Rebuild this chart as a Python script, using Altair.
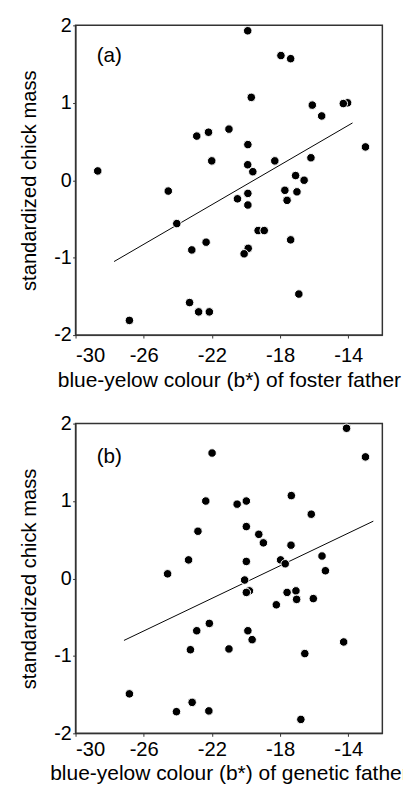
import altair as alt
import pandas as pd

# Panel (a): foster father
foster_x = [-19.9, -17.95, -17.38, -19.69, -16.11, -14.04, -14.29, -15.56, -22.89, -22.2,
            -21.0, -19.89, -22.01, -18.31, -12.99, -16.19, -19.9, -19.6, -28.7, -17.09,
            -16.59, -24.56, -17.72, -17.01, -20.5, -19.89, -19.89, -17.59, -24.06, -19.29,
            -18.93, -17.38, -22.34, -23.18, -19.87, -20.11, -16.9, -23.31, -22.78, -22.15,
            -26.84]
foster_y = [1.93, 1.61, 1.57, 1.07, 0.97, 1.00, 0.99, 0.83, 0.57, 0.62,
            0.66, 0.46, 0.25, 0.25, 0.43, 0.29, 0.20, 0.11, 0.12, 0.06,
            0.00, -0.14, -0.13, -0.15, -0.24, -0.17, -0.32, -0.26, -0.56, -0.65,
            -0.65, -0.77, -0.80, -0.90, -0.88, -0.95, -1.47, -1.58, -1.70, -1.70,
            -1.81]
foster_fit_x = [-27.74, -13.75]
foster_fit_y = [-1.05, 0.74]

# Panel (b): genetic father
genetic_x = [-14.1, -12.99, -21.99, -22.36, -20.52, -19.98, -17.34, -16.17, -22.82, -19.98,
             -19.25, -18.98, -17.36, -23.37, -17.97, -17.7, -15.54, -19.98, -15.34, -24.6,
             -20.08, -19.8, -19.98, -17.59, -17.07, -17.03, -16.05, -18.22, -22.15, -22.89,
             -19.89, -19.64, -14.27, -23.26, -21.0, -16.55, -26.84, -23.16, -24.08, -22.18,
             -16.78]
genetic_y = [1.94, 1.57, 1.62, 1.00, 0.96, 1.00, 1.07, 0.83, 0.61, 0.67,
             0.57, 0.46, 0.43, 0.24, 0.24, 0.19, 0.29, 0.22, 0.10, 0.06,
             -0.02, -0.16, -0.18, -0.18, -0.16, -0.27, -0.26, -0.34, -0.58, -0.675,
             -0.675, -0.79, -0.82, -0.92, -0.91, -0.97, -1.49, -1.60, -1.72, -1.71,
             -1.82]
genetic_fit_x = [-27.16, -12.53]
genetic_fit_y = [-0.80, 0.74]

x_ticks = [-30, -26, -22, -18, -14]
y_ticks = [-2, -1, 0, 1, 2]
FONT = "Liberation Sans"
W, H = 312, 315


def panel(xs, ys, fx, fy, label, label_y, xtitle, x_label_pad, x_title_pad):
    pts = pd.DataFrame({"x": xs, "y": ys, "order": list(range(len(xs)))})
    fit = pd.DataFrame({"x": fx, "y": fy})
    xs_ = alt.Scale(domain=[-30, -12], nice=False, zero=False)
    ys_ = alt.Scale(domain=[-2, 2], nice=False, zero=False)
    xax = alt.Axis(values=x_ticks, title=xtitle, labelExpr="'' + datum.value",
                   labelPadding=x_label_pad, titlePadding=x_title_pad)
    yax = alt.Axis(values=y_ticks, title="standardized chick mass", labelExpr="'' + datum.value")
    line = alt.Chart(fit).mark_line(color="black", strokeWidth=1).encode(
        x=alt.X("x:Q", scale=xs_, axis=xax),
        y=alt.Y("y:Q", scale=ys_, axis=yax),
    )
    points = alt.Chart(pts).mark_point(
        filled=True, fill="black", stroke="white", strokeWidth=1, size=75, opacity=1, shape="circle"
    ).encode(
        x=alt.X("x:Q", scale=xs_, axis=xax),
        y=alt.Y("y:Q", scale=ys_, axis=yax),
        order="order:Q",
    )
    txt = alt.Chart(pd.DataFrame({"t": [label]})).mark_text(
        font=FONT, fontSize=21, align="left", baseline="middle", color="black"
    ).encode(x=alt.value(21.5), y=alt.value(label_y), text="t:N")
    return alt.layer(line, points, txt).properties(width=W, height=H)


a = panel(foster_x, foster_y, foster_fit_x, foster_fit_y, "(a)", 31,
          "blue-yelow colour (b*) of foster father", 8.2, 3.7)
b = panel(genetic_x, genetic_y, genetic_fit_x, genetic_fit_y, "(b)", 34,
          "blue-yelow colour (b*) of genetic father", 3.8, 3.0)

chart = alt.vconcat(a, b, spacing=21).properties(
    padding={"left": 10.7, "top": 0, "right": -7, "bottom": 0}
).configure_view(
    stroke="#333333", strokeWidth=1.5
).configure_axis(
    labelFont=FONT, titleFont=FONT,
    titleFontWeight="normal", labelColor="black", titleColor="black",
    domainColor="#333333", tickColor="#333333", tickSize=3, grid=False,
).configure_axisX(
    labelFontSize=20.5, titleFontSize=21.3
).configure_axisY(
    labelFontSize=20, titleFontSize=20.5, titlePadding=14, labelPadding=1.5
)

chart.save("out.html", embed_options={"renderer": "svg", "actions": False})
